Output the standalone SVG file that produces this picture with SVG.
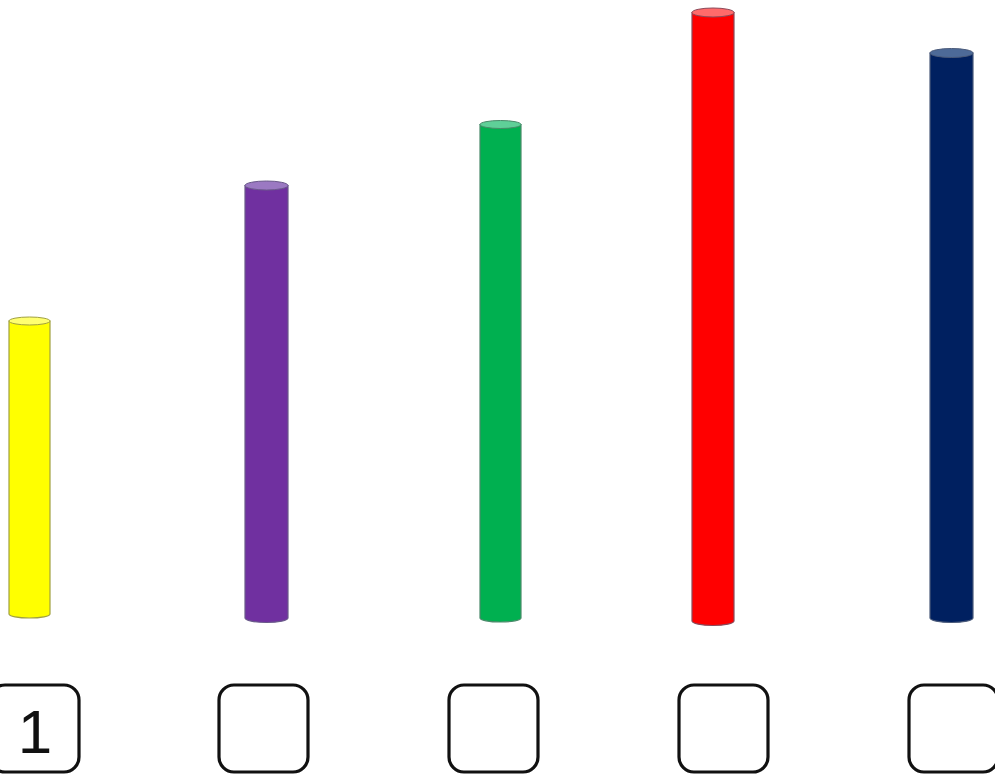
<svg xmlns="http://www.w3.org/2000/svg" width="995" height="776" viewBox="0 0 995 776">
<style>
.cyl{stroke-width:1.2}
.top{stroke-width:1}
.box{fill:#fff;stroke:#111;stroke-width:3.2}
.num{font-family:"Liberation Sans",Arial,sans-serif;font-size:62px;fill:#111;text-anchor:middle}
</style>
<rect width="995" height="776" fill="#fff"/>
<g id="cyl-yellow">
<path class="cyl" d="M9,321 V614 A20.5,4 0 0 0 50,614 V321 Z" fill="#ffff00" stroke="#a0a040"/>
<ellipse class="top" cx="29.5" cy="321" rx="20.5" ry="4" fill="#ffff70" stroke="#a0a040"/>
</g>
<g id="cyl-purple">
<path class="cyl" d="M245,185.5 V618 A21.5,4.5 0 0 0 288,618 V185.5 Z" fill="#7030a0" stroke="#6a5a8a"/>
<ellipse class="top" cx="266.5" cy="185.5" rx="21.5" ry="4.5" fill="#9b79c2" stroke="#6a5a8a"/>
</g>
<g id="cyl-green">
<path class="cyl" d="M480,124.5 V618 A20.5,4 0 0 0 521,618 V124.5 Z" fill="#00b050" stroke="#4a8a6a"/>
<ellipse class="top" cx="500.5" cy="124.5" rx="20.5" ry="4" fill="#5fcf98" stroke="#4a8a6a"/>
</g>
<g id="cyl-red">
<path class="cyl" d="M692,12.5 V621 A21,4.5 0 0 0 734,621 V12.5 Z" fill="#ff0000" stroke="#8a4a5a"/>
<ellipse class="top" cx="713" cy="12.5" rx="21" ry="4.5" fill="#ff6a6a" stroke="#8a4a5a"/>
</g>
<g id="cyl-navy">
<path class="cyl" d="M930,53 V618 A21.5,4.5 0 0 0 973,618 V53 Z" fill="#002060" stroke="#4a5a7a"/>
<ellipse class="top" cx="951.5" cy="53" rx="21.5" ry="4.5" fill="#4d6a98" stroke="#4a5a7a"/>
</g>
<g id="box-1">
<rect class="box" x="-10" y="685" width="89" height="87" rx="15"/>
<text class="num" x="35" y="753">1</text>
</g>
<g id="box-2"><rect class="box" x="219" y="685" width="89" height="87" rx="15"/></g>
<g id="box-3"><rect class="box" x="449" y="685" width="89" height="87" rx="15"/></g>
<g id="box-4"><rect class="box" x="679" y="685" width="89" height="87" rx="15"/></g>
<g id="box-5"><rect class="box" x="909" y="685" width="89" height="87" rx="15"/></g>
<g id="connectors"/>
</svg>
